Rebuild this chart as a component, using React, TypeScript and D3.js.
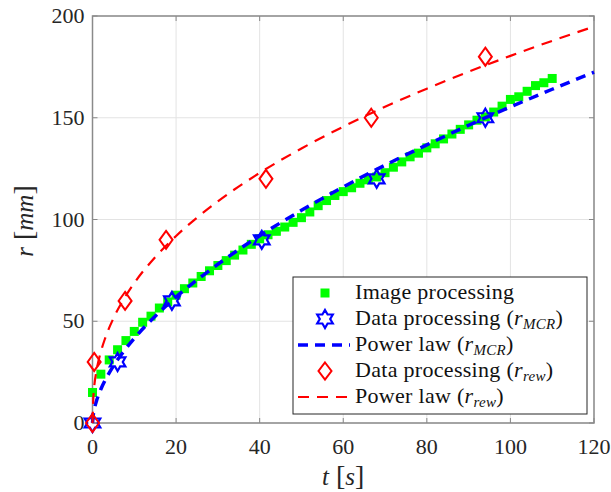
import React from "react";
import * as d3 from "d3";

// ---- Data ----
const imgT = [0,2,4,6,8,10,12,14,16,18,20,22,24,26,28,30,32,34,36,38,40,42,44,46,48,50,52,54,56,58,60,62,64,66,68,70,72,74,76,78,80,82,84,86,88,90,92,94,96,98,100,102,104,106,108,110];
const imgR = [15,24,31,36,40.5,45,49.5,52.5,56.5,59.5,62.8,66,68.8,72,74.8,77.4,79.8,82.5,85,87.8,90.5,92.5,94.2,96.3,98.6,100.9,103.7,106.8,109.3,111.8,113.7,115.6,117.8,119.5,120.9,123,125.7,128.3,130.8,132.6,135.2,137.2,139.6,142,144.3,146.5,148.8,150.4,152.8,155.7,159,160.3,163,165.8,167.2,169.3];

const mcrT = [0, 6, 19, 40.5, 68, 94];
const mcrR = [0, 30, 60, 90, 120, 150];

const rewT = [0, 0.4, 7.8, 17.6, 41.5, 66.7, 94];
const rewR = [0, 30, 60, 90, 120, 150, 180];

const fitT = [0, 0.25, 0.5, 1, 2, 3, 5, 7, 10, 15, 20, 30, 40, 50, 60, 70, 80, 90, 100, 110, 120];
const fitMcrR = [0, 5.05, 7.5, 11.15, 16.6, 20.9, 28.0, 33.9, 41.6, 52.5, 61.9, 78.0, 92.0, 104.5, 116.0, 126.7, 136.7, 146.3, 155.3, 164.0, 172.4];
const fitRewR = [0, 14.7, 19.6, 26.2, 35.0, 41.5, 51.4, 59.2, 68.8, 81.5, 91.9, 108.9, 122.9, 134.9, 145.6, 155.4, 164.3, 172.6, 180.4, 187.8, 194.8];

const xTicks = [0, 20, 40, 60, 80, 100, 120];
const yTicks = [0, 50, 100, 150, 200];

const FONT = "'Liberation Serif', 'DejaVu Serif', serif";
const W = 611, H = 492;
const L = 92.5, R = 594, T = 16, B = 423;

function hexagram(cx: number, cy: number, Ro: number) {
  const ri = Ro / Math.sqrt(3);
  const pts: [number, number][] = [];
  for (let k = 0; k < 6; k++) {
    const a1 = ((-90 + 60 * k) * Math.PI) / 180;
    const a2 = ((-60 + 60 * k) * Math.PI) / 180;
    pts.push([cx + Ro * Math.cos(a1), cy + Ro * Math.sin(a1)]);
    pts.push([cx + ri * Math.cos(a2), cy + ri * Math.sin(a2)]);
  }
  return "M" + pts.map((p) => p.join(",")).join("L") + "Z";
}
function diamond(cx: number, cy: number, w: number, h: number) {
  return `M${cx},${cy - h / 2}L${cx + w / 2},${cy}L${cx},${cy + h / 2}L${cx - w / 2},${cy}Z`;
}

const GREEN = "#00ff00";
const BLUE = "#0000ff";
const RED = "#ff0000";

function Sub({ base, sub }: { base: string; sub: string }) {
  return (
    <>
      <tspan fontStyle="italic">{base}</tspan>
      <tspan fontStyle="italic" fontSize="15" dy="4">{sub}</tspan>
      <tspan dy="-4">)</tspan>
    </>
  );
}

export default function App() {
  const x = d3.scaleLinear().domain([0, 120]).range([L, R]);
  const y = d3.scaleLinear().domain([0, 200]).range([B, T]);
  const line = d3
    .line<[number, number]>()
    .x((d) => x(d[0]))
    .y((d) => y(d[1]))
    .curve(d3.curveMonotoneX);
  const mcrLine = line(fitT.map((t, i) => [t, fitMcrR[i]]));
  const rewLine = line(fitT.map((t, i) => [t, fitRewR[i]]));
  const sq = 9;

  const lgX = 293, lgY = 277, lgW = 294, lgH = 137;
  const rowY = (i: number) => lgY + 16 + i * 26;
  const symX = 325;
  const txtX = 355;

  return (
    <svg width={W} height={H} style={{ position: "fixed", left: 0, top: 0, background: "#fff" }} fontFamily={FONT}>
      <rect x={0} y={0} width={W} height={H} fill="#fff" />
      {/* grid */}
      {xTicks.map((t) => (
        <line key={"gx" + t} x1={x(t)} x2={x(t)} y1={T} y2={B} stroke="#e3e3e3" strokeWidth={1} />
      ))}
      {yTicks.map((t) => (
        <line key={"gy" + t} x1={L} x2={R} y1={y(t)} y2={y(t)} stroke="#e3e3e3" strokeWidth={1} />
      ))}
      {/* ticks */}
      {xTicks.map((t) => (
        <g key={"tx" + t}>
          <line x1={x(t)} x2={x(t)} y1={B} y2={B - 5} stroke="#888" strokeWidth={1} />
          <line x1={x(t)} x2={x(t)} y1={T} y2={T + 5} stroke="#888" strokeWidth={1} />
          <text x={x(t)} y={B + 31} textAnchor="middle" fontSize={22} fill="#262626">{t}</text>
        </g>
      ))}
      {yTicks.map((t) => (
        <g key={"ty" + t}>
          <line x1={L} x2={L + 5} y1={y(t)} y2={y(t)} stroke="#888" strokeWidth={1} />
          <line x1={R} x2={R - 5} y1={y(t)} y2={y(t)} stroke="#888" strokeWidth={1} />
          <text x={L - 8} y={y(t) + 7} textAnchor="end" fontSize={22} fill="#262626">{t}</text>
        </g>
      ))}
      {/* axes box */}
      <rect x={L} y={T} width={R - L} height={B - T} fill="none" stroke="#8a8a8a" strokeWidth={1.5} />

      {/* series */}
      <g>
        {imgT.map((t, i) => (
          <rect key={"s" + i} x={x(t) - sq / 2} y={y(imgR[i]) - sq / 2} width={sq} height={sq} fill={GREEN} />
        ))}
      </g>
      <g>
        {mcrT.map((t, i) => (
          <path key={"h" + i} d={hexagram(x(t), y(mcrR[i]), 9)} fill="none" stroke={BLUE} strokeWidth={2.2} />
        ))}
      </g>
      <path d={mcrLine || ""} fill="none" stroke={BLUE} strokeWidth={3.5} strokeDasharray="10,7" />
      <g>
        {rewT.map((t, i) => (
          <path key={"d" + i} d={diamond(x(t), y(rewR[i]), 13, 18)} fill="none" stroke={RED} strokeWidth={2} />
        ))}
      </g>
      <path d={rewLine || ""} fill="none" stroke={RED} strokeWidth={2.2} strokeDasharray="11,8" />

      {/* axis labels */}
      <text x={(L + R) / 2} y={485} textAnchor="middle" fontSize={25} fill="#262626">
        <tspan fontStyle="italic">t</tspan>
        <tspan dx="7" fontSize={28}>[</tspan>
        <tspan fontStyle="italic">s</tspan>
        <tspan fontSize={28}>]</tspan>
      </text>
      <text transform={`translate(33, 221) rotate(-90)`} textAnchor="middle" fontSize={25} fill="#262626">
        <tspan fontStyle="italic">r</tspan>
        <tspan dx="7" fontSize={28}>[</tspan>
        <tspan fontStyle="italic">mm</tspan>
        <tspan fontSize={28}>]</tspan>
      </text>

      {/* legend */}
      <rect x={lgX} y={lgY} width={lgW} height={lgH} fill="#fff" stroke="#262626" strokeWidth={1} />
      <rect x={symX - 4.5} y={rowY(0) - 4.5} width={9} height={9} fill={GREEN} />
      <path d={hexagram(symX, rowY(1), 9)} fill="none" stroke={BLUE} strokeWidth={2.2} />
      <line x1={298} x2={350} y1={rowY(2)} y2={rowY(2)} stroke={BLUE} strokeWidth={3.5} strokeDasharray="10,7" />
      <path d={diamond(symX, rowY(3), 13, 17)} fill="none" stroke={RED} strokeWidth={2} />
      <line x1={298} x2={350} y1={rowY(4)} y2={rowY(4)} stroke={RED} strokeWidth={2.2} strokeDasharray="11,8" />
      <g fontSize={22} fill="#111" letterSpacing={0.3}>
        <text x={txtX} y={rowY(0) + 6}>Image processing</text>
        <text x={txtX} y={rowY(1) + 6}>Data processing (<Sub base="r" sub="MCR" /></text>
        <text x={txtX} y={rowY(2) + 6}>Power law (<Sub base="r" sub="MCR" /></text>
        <text x={txtX} y={rowY(3) + 6}>Data processing (<Sub base="r" sub="rew" /></text>
        <text x={txtX} y={rowY(4) + 6}>Power law (<Sub base="r" sub="rew" /></text>
      </g>
    </svg>
  );
}
